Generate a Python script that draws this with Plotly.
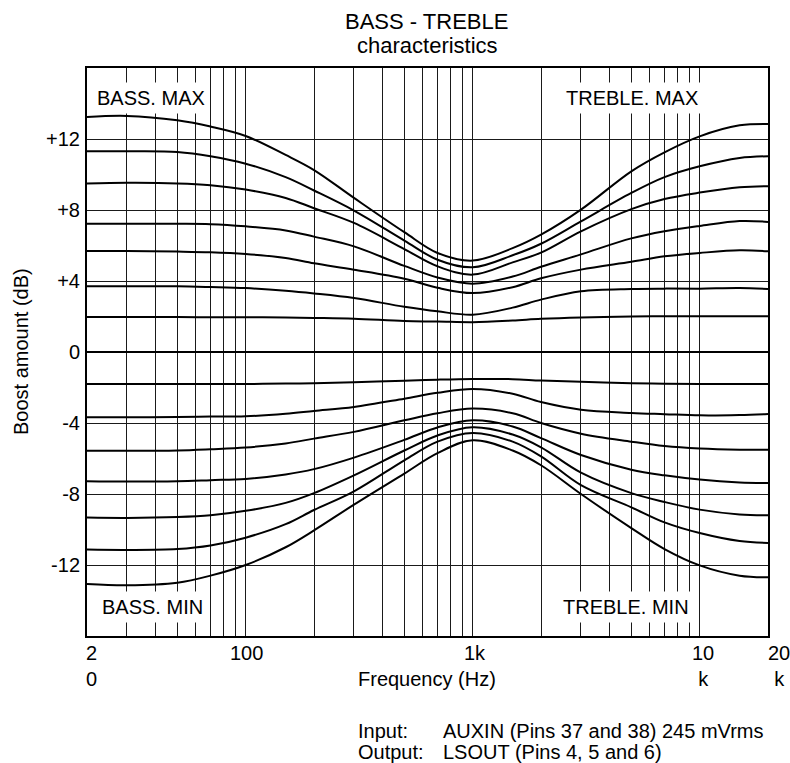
import math
import plotly.graph_objects as go

# ---------------- data ----------------
freq_hz = [20, 30, 50, 70, 100, 150, 200, 300, 500, 700, 1000, 1500, 2000,
           3000, 5000, 7000, 10000, 15000, 20000]

# boost curves (bass + treble raised together), top to bottom
boost_1 = [13.24, 13.30, 13.05, 12.70, 12.17, 11.10, 10.25, 8.68, 6.75, 5.58, 5.15, 5.85, 6.61, 8.02, 10.18, 11.25, 12.15, 12.77, 12.85]
boost_2 = [11.31, 11.31, 11.27, 11.03, 10.61, 9.85, 9.10, 7.97, 6.28, 5.20, 4.77, 5.45, 6.10, 7.36, 8.96, 9.85, 10.46, 10.93, 11.03]
boost_3 = [9.49, 9.53, 9.50, 9.40, 9.15, 8.68, 8.10, 7.27, 5.80, 4.83, 4.36, 5.05, 5.60, 6.80, 8.05, 8.62, 8.98, 9.28, 9.34]
boost_4 = [7.23, 7.22, 7.22, 7.20, 7.08, 6.85, 6.50, 5.95, 4.85, 4.20, 3.85, 4.25, 4.80, 5.50, 6.40, 6.80, 7.10, 7.38, 7.33]
boost_5 = [5.69, 5.69, 5.66, 5.62, 5.52, 5.30, 5.00, 4.64, 4.13, 3.62, 3.32, 3.65, 4.15, 4.64, 5.08, 5.39, 5.58, 5.73, 5.67]
boost_6 = [3.70, 3.70, 3.70, 3.66, 3.60, 3.45, 3.30, 3.04, 2.55, 2.29, 2.10, 2.50, 2.95, 3.42, 3.55, 3.57, 3.57, 3.60, 3.55]
boost_7 = [1.97, 1.97, 1.97, 1.96, 1.96, 1.94, 1.92, 1.88, 1.74, 1.72, 1.68, 1.77, 1.87, 1.95, 2.00, 2.01, 2.01, 2.01, 2.01]

# cut curves (bass + treble lowered together), bottom to top
cut_1 = [-13.07, -13.14, -13.00, -12.60, -12.00, -11.00, -10.05, -8.60, -6.85, -5.70, -4.97, -5.55, -6.38, -8.00, -9.92, -11.10, -12.02, -12.60, -12.69]
cut_2 = [-11.13, -11.15, -11.10, -10.90, -10.46, -9.70, -8.90, -7.85, -6.10, -5.05, -4.56, -5.05, -5.88, -7.50, -8.75, -9.60, -10.20, -10.65, -10.76]
cut_3 = [-9.33, -9.35, -9.30, -9.20, -8.95, -8.50, -7.95, -6.95, -5.55, -4.70, -4.24, -4.65, -5.37, -6.80, -7.95, -8.45, -8.88, -9.15, -9.20]
cut_4 = [-7.28, -7.30, -7.28, -7.22, -7.15, -6.90, -6.60, -5.95, -4.95, -4.25, -3.85, -4.20, -4.85, -5.80, -6.63, -6.95, -7.19, -7.35, -7.38]
cut_5 = [-5.56, -5.57, -5.55, -5.48, -5.38, -5.15, -4.88, -4.50, -3.85, -3.45, -3.19, -3.45, -4.00, -4.60, -5.05, -5.30, -5.44, -5.50, -5.50]
cut_6 = [-3.68, -3.68, -3.66, -3.64, -3.62, -3.48, -3.32, -3.10, -2.63, -2.30, -2.08, -2.35, -2.82, -3.25, -3.43, -3.50, -3.57, -3.55, -3.49]
cut_7 = [-1.80, -1.80, -1.80, -1.80, -1.80, -1.78, -1.76, -1.70, -1.62, -1.56, -1.52, -1.53, -1.61, -1.68, -1.76, -1.79, -1.80, -1.80, -1.80]

series = [boost_1, boost_2, boost_3, boost_4, boost_5, boost_6, boost_7,
          cut_7, cut_6, cut_5, cut_4, cut_3, cut_2, cut_1]

# grid / tick definitions
x_grid_vals = [20, 30, 40, 50, 60, 70, 80, 90, 100, 200, 300, 400, 500, 600, 700,
               800, 900, 1000, 2000, 3000, 4000, 5000, 6000, 7000, 8000, 9000,
               10000, 20000]
x_label_vals = [20, 100, 1000, 10000, 20000]
x_label_text = ["2<br>0", "100", "1k", "10<br>k", "20<br>k"]
y_tick_vals = [-12, -8, -4, 0, 4, 8, 12]
y_tick_text = ["-12", "-8", "-4", "0", "+4", "+8", "+12"]

title_lines = ["BASS - TREBLE", "characteristics"]
x_title = "Frequency (Hz)"
y_title = "Boost amount (dB)"
corner_labels = ["BASS. MAX", "TREBLE. MAX", "BASS. MIN", "TREBLE. MIN"]
note_keys = ["Input:", "Output:"]
note_vals = ["AUXIN (Pins 37 and 38) 245 mVrms", "LSOUT (Pins 4, 5 and 6)"]

# ---------------- layout geometry ----------------
W, H = 790, 763
L, R, T, B = 87, 22, 68, 127
PW, PH = W - L - R, H - T - B


def px(xp):
    return (xp - L) / PW


def py(yp):
    return (H - B - yp) / PH


FONT = "Liberation Sans, Arial, Helvetica, sans-serif"
FS = 20

fig = go.Figure()
for s in series:
    fig.add_trace(go.Scatter(
        x=freq_hz, y=s, mode="lines",
        line=dict(color="black", width=2, shape="spline", smoothing=1.0),
        hoverinfo="skip"))

fig.update_layout(
    width=W, height=H,
    margin=dict(l=L, r=R, t=T, b=B),
    plot_bgcolor="white", paper_bgcolor="white",
    showlegend=False,
    font=dict(family=FONT, size=FS, color="black"),
)

fig.update_xaxes(
    type="log",
    range=[math.log10(20), math.log10(20000)],
    tickvals=x_grid_vals, showticklabels=False, ticks="",
    showgrid=True, gridcolor="#1a1a1a", gridwidth=1.3,
    showline=True, mirror=True, linecolor="black", linewidth=2,
    zeroline=False,
)
fig.update_yaxes(
    range=[-16, 16],
    tickvals=y_tick_vals, ticktext=y_tick_text, ticks="",
    ticklabelstandoff=1,
    tickfont=dict(size=FS),
    showgrid=True, gridcolor="#1a1a1a", gridwidth=1.3,
    zeroline=True, zerolinecolor="black", zerolinewidth=2,
    showline=True, mirror=True, linecolor="black", linewidth=2,
)

ann = []
# title
ann.append(dict(text=title_lines[0], x=px(426.5), y=py(21.5), xref="paper", yref="paper",
                xanchor="center", yanchor="middle", showarrow=False, font=dict(size=22)))
ann.append(dict(text=title_lines[1], x=px(427), y=py(45.5), xref="paper", yref="paper",
                xanchor="center", yanchor="middle", showarrow=False, font=dict(size=22)))

# axis titles
ann.append(dict(text=x_title, x=px(426.5), y=py(679), xref="paper", yref="paper",
                xanchor="center", yanchor="middle", showarrow=False))
ann.append(dict(text=y_title, x=px(21), y=py(352), xref="paper", yref="paper",
                xanchor="center", yanchor="middle", showarrow=False, textangle=-90))

# x tick labels
x_anchor = ["left", "center", "center", "center", "left"]
x_shift = [-3, 1, 2, 3, -2]
for v, t, a, sh in zip(x_label_vals, x_label_text, x_anchor, x_shift):
    ann.append(dict(text=t, x=math.log10(v), y=py(640), xref="x", yref="paper",
                    xanchor=a, yanchor="top", xshift=sh, showarrow=False,
                    align="center"))

# corner labels with white boxes
corner_pos = [(92, 98.5), (561, 98.5), (97, 607), (558, 607)]
for t, (xp, yp) in zip(corner_labels, corner_pos):
    ann.append(dict(text=t, x=px(xp), y=py(yp), xref="paper", yref="paper",
                    xanchor="left", yanchor="middle", showarrow=False,
                    bgcolor="white", borderpad=4))

# notes
for i, (k, v) in enumerate(zip(note_keys, note_vals)):
    yy = 731 + 21 * i
    ann.append(dict(text=k, x=px(356), y=py(yy), xref="paper", yref="paper",
                    xanchor="left", yanchor="middle", showarrow=False))
    ann.append(dict(text=v, x=px(441), y=py(yy), xref="paper", yref="paper",
                    xanchor="left", yanchor="middle", showarrow=False))

fig.update_layout(annotations=ann)
fig.write_html("out.html")
